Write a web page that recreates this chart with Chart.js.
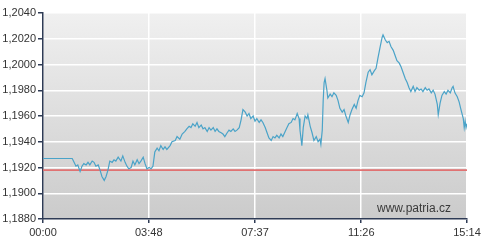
<!DOCTYPE html>
<html>
<head>
<meta charset="utf-8">
<script src="https://cdn.jsdelivr.net/npm/chart.js@4.4.1/dist/chart.umd.min.js"></script>
<style>
  html, body { margin: 0; padding: 0; background: #fff; }
  #wrap { width: 500px; height: 252px; }
</style>
</head>
<body>
<div id="wrap"><canvas id="chart" width="500" height="252"></canvas></div>
<script>
// minutes since 00:00
const minutes = [0, 63, 67, 71, 75, 80, 84, 88, 93, 97, 101, 106, 110, 114, 119, 123, 127, 132, 136, 140,
  144, 149, 153, 157, 162, 168, 172, 177, 181, 185, 190, 194, 198, 203, 207, 211, 216, 220, 224, 229,
  233, 237, 241, 246, 250, 254, 259, 263, 267, 274, 278, 285, 289, 295, 300, 306, 310, 315, 319, 323,
  328, 332, 336, 341, 345, 349, 354, 358, 362, 367, 371, 375, 379, 384, 388, 392, 397, 401, 405, 410,
  414, 418, 423, 427, 431, 436, 440, 444, 448, 453, 457, 461, 466, 470, 474, 479, 483, 487, 492, 496,
  500, 504, 509, 513, 517, 522, 526, 530, 535, 539, 543, 548, 552, 554, 558, 561, 565, 569, 571, 576,
  580, 584, 589, 593, 597, 599, 602, 604, 606, 608, 612, 614, 619, 623, 627, 632, 636, 640, 645, 649,
  653, 658, 662, 666, 671, 675, 679, 683, 688, 692, 696, 701, 705, 709, 714, 718, 722, 727, 731, 733,
  738, 742, 746, 750, 755, 759, 763, 768, 772, 776, 781, 785, 789, 793, 798, 802, 806, 811, 815, 819,
  824, 828, 832, 837, 841, 845, 850, 852, 856, 860, 865, 869, 873, 878, 882, 884, 888, 893, 897, 901,
  906, 908, 910, 912, 914];

const rate = [1.1927, 1.1927, 1.1924, 1.1921, 1.1922, 1.1917, 1.1921, 1.1923, 1.1922, 1.1924, 1.1922, 1.1925, 1.1924, 1.1921, 1.1922, 1.1918, 1.1913, 1.1910, 1.1913, 1.1918,
  1.1925, 1.1924, 1.1926, 1.1925, 1.1928, 1.1925, 1.1929, 1.1924, 1.1921, 1.1919, 1.1920, 1.1925, 1.1922, 1.1926, 1.1923, 1.1925, 1.1928, 1.1923, 1.1919, 1.1920,
  1.1919, 1.1921, 1.1932, 1.1935, 1.1933, 1.1937, 1.1934, 1.1936, 1.1934, 1.1937, 1.1940, 1.1941, 1.1944, 1.1942, 1.1946, 1.1948, 1.1950, 1.1952, 1.1951, 1.1954,
  1.1952, 1.1955, 1.1951, 1.1953, 1.1950, 1.1951, 1.1948, 1.1951, 1.1949, 1.1951, 1.1948, 1.1950, 1.1948, 1.1947, 1.1946, 1.1944, 1.1947, 1.1949, 1.1948, 1.1950,
  1.1948, 1.1949, 1.1951, 1.1957, 1.1965, 1.1963, 1.1960, 1.1962, 1.1958, 1.1960, 1.1956, 1.1958, 1.1955, 1.1957, 1.1955, 1.1951, 1.1947, 1.1943, 1.1941, 1.1944,
  1.1943, 1.1945, 1.1943, 1.1946, 1.1944, 1.1948, 1.1951, 1.1954, 1.1955, 1.1958, 1.1957, 1.1962, 1.1958, 1.1949, 1.1937, 1.1951, 1.1960, 1.1958, 1.1961, 1.1952,
  1.1947, 1.1941, 1.1944, 1.1940, 1.1942, 1.1938, 1.1949, 1.1972, 1.1986, 1.1989, 1.1980, 1.1974, 1.1977, 1.1975, 1.1978, 1.1976, 1.1972, 1.1966, 1.1963, 1.1965,
  1.1960, 1.1955, 1.1961, 1.1965, 1.1969, 1.1966, 1.1972, 1.1976, 1.1975, 1.1978, 1.1986, 1.1994, 1.1996, 1.1992, 1.1995, 1.1997, 1.2005, 1.2014, 1.2021, 1.2023,
  1.2019, 1.2017, 1.2018, 1.2014, 1.2011, 1.2007, 1.2003, 1.2001, 1.1998, 1.1994, 1.1989, 1.1986, 1.1982, 1.1979, 1.1983, 1.1979, 1.1982, 1.1980, 1.1981, 1.1979,
  1.1982, 1.1980, 1.1981, 1.1978, 1.1980, 1.1977, 1.1969, 1.1961, 1.1970, 1.1976, 1.1979, 1.1977, 1.1980, 1.1978, 1.1982, 1.1983, 1.1978, 1.1975, 1.1971, 1.1965,
  1.1958, 1.1951, 1.1956, 1.1951, 1.1954];

const refLevel = 1.1918;
const xTicks = [0, 228, 457, 686, 914];
const yMin = 1.1880, yMax = 1.2040, yStep = 0.002;

const axisColor = '#2e3b55';

function fmtTime(m) {
  const h = Math.floor(m / 60), mm = m % 60;
  return String(h).padStart(2, '0') + ':' + String(mm).padStart(2, '0');
}

// gray gradient behind the plot + watermark
const backdrop = {
  id: 'backdrop',
  beforeDraw(chart) {
    const { ctx, chartArea: a } = chart;
    const g = ctx.createLinearGradient(0, a.top, 0, a.bottom);
    g.addColorStop(0, '#f0f0f0');
    g.addColorStop(1, '#cbcbcb');
    ctx.save();
    ctx.fillStyle = g;
    ctx.fillRect(a.left, a.top, a.right - a.left, a.bottom - a.top);
    ctx.restore();
  },
  afterDatasetsDraw(chart) {
    const { ctx, chartArea: a } = chart;
    ctx.save();
    ctx.font = '12px "Liberation Sans", Arial, sans-serif';
    ctx.fillStyle = '#3a3a3a';
    ctx.textAlign = 'right';
    ctx.textBaseline = 'alphabetic';
    ctx.fillText('www.patria.cz', a.right - 16, a.bottom - 7);
    ctx.restore();
  }
};

new Chart(document.getElementById('chart'), {
  type: 'line',
  data: {
    datasets: [
      {
        data: minutes.map((m, i) => ({ x: m, y: rate[i] })),
        borderColor: '#4aa3c8',
        borderWidth: 1.2,
        pointRadius: 0,
        tension: 0,
        order: 1
      },
      {
        data: [{ x: 0, y: refLevel }, { x: 914, y: refLevel }],
        borderColor: '#e07272',
        borderWidth: 1.6,
        pointRadius: 0,
        order: 2
      }
    ]
  },
  options: {
    responsive: false,
    animation: false,
    events: [],
    layout: { padding: { top: 13, right: 33, left: 0, bottom: 0 } },
    plugins: { legend: { display: false }, tooltip: { enabled: false } },
    scales: {
      x: {
        type: 'linear',
        min: 0,
        max: 914,
        afterBuildTicks(scale) { scale.ticks = xTicks.map(v => ({ value: v })); },
        afterFit(scale) { scale.height = 33; },
        grid: { color: '#ffffff', lineWidth: 1.5, tickColor: axisColor, tickLength: 4 },
        border: { color: axisColor, width: 1.5 },
        ticks: {
          color: '#333',
          font: { family: '"Liberation Sans", Arial, sans-serif', size: 11 },
          padding: 3,
          maxRotation: 0,
          callback: v => fmtTime(v)
        }
      },
      y: {
        min: yMin,
        max: yMax,
        afterFit(scale) { scale.width = 43; },
        grid: { color: '#ffffff', lineWidth: 1.5, tickColor: axisColor, tickLength: 5 },
        border: { color: axisColor, width: 1.5 },
        ticks: {
          stepSize: yStep,
          color: '#333',
          font: { family: '"Liberation Sans", Arial, sans-serif', size: 11 },
          padding: 2,
          callback: v => v.toFixed(4).replace('.', ',')
        }
      }
    }
  },
  plugins: [backdrop]
});
</script>
</body>
</html>
